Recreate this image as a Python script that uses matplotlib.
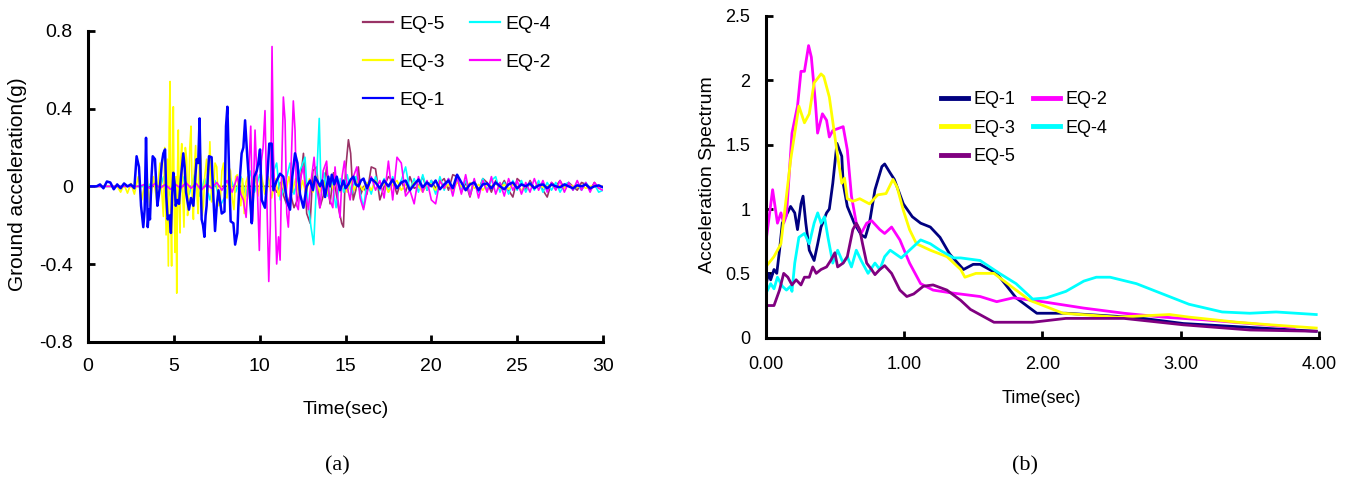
import matplotlib
matplotlib.use("Agg")
import matplotlib.pyplot as plt
import numpy as np

plt.rcParams["font.family"] = ["Liberation Sans", "DejaVu Sans"]

# ---------------- (a) ground motion records: (time s, acceleration g) ----------------
eq1_main = [(0, 0), (0.5, 0), (0.7, 0.01), (0.9, -0.01), (1.1, 0.025), (1.3, 0.02), (1.5, -0.015),
            (1.7, 0.01), (1.9, -0.01), (2.1, 0.015), (2.3, 0), (2.5, 0.01), (2.7, -0.01),
            (2.83, 0.155), (2.97, 0.10), (3.09, -0.10), (3.22, -0.21), (3.30, -0.12), (3.38, 0.25),
            (3.43, 0.05), (3.48, -0.21), (3.55, -0.12), (3.61, -0.17), (3.70, 0.05), (3.77, 0.155),
            (3.90, 0.14), (3.97, 0.02), (4.04, -0.10), (4.12, -0.05), (4.19, 0.0), (4.30, 0.12),
            (4.39, 0.17), (4.49, 0.19), (4.56, -0.05), (4.64, -0.17), (4.75, -0.15), (4.83, -0.24),
            (4.90, -0.05), (4.97, 0.07), (5.04, 0.02), (5.11, -0.10), (5.20, -0.07), (5.30, -0.09),
            (5.42, 0.05), (5.55, 0.17), (5.63, 0.10), (5.71, -0.03), (5.80, -0.08), (5.88, -0.12),
            (6.00, -0.06), (6.14, -0.10), (6.25, 0.05), (6.33, 0.14), (6.42, 0.12), (6.50, 0.35),
            (6.56, 0.05), (6.62, -0.17), (6.70, -0.20), (6.78, -0.26), (6.85, -0.15), (6.91, -0.10),
            (6.98, 0.05), (7.05, 0.155), (7.20, 0.15), (7.30, -0.05), (7.40, -0.23), (7.50, -0.10),
            (7.60, -0.02), (7.70, -0.08), (7.79, -0.14), (7.95, -0.13), (8.04, 0.31), (8.12, 0.41),
            (8.24, 0.01), (8.31, -0.18), (8.47, -0.19), (8.57, -0.30), (8.70, -0.24), (8.76, -0.10),
            (8.82, 0.01), (8.95, 0.17), (9.05, 0.20), (9.15, 0.34), (9.28, 0.15), (9.40, 0.0),
            (9.47, -0.10), (9.54, -0.19), (9.62, -0.05), (9.69, 0.05), (9.83, 0.08), (9.92, 0.12),
            (10.02, 0.19), (10.12, -0.07), (10.31, -0.11), (10.45, 0.05), (10.56, 0.22), (10.70, 0.22),
            (10.80, -0.02), (10.99, 0.03), (11.19, 0.065), (11.38, 0.05), (11.58, -0.07), (11.77, -0.12),
            (11.90, 0.05), (12.06, 0.17), (12.20, 0.12), (12.35, -0.04), (12.55, -0.11), (12.74, 0.0),
            (12.94, 0.03), (13.10, -0.02), (13.23, 0.05), (13.40, 0.02), (13.52, 0.0), (13.65, 0.03),
            (13.81, -0.055), (14.00, 0.05), (14.10, 0.0), (14.20, 0.06), (14.35, 0.01), (14.49, 0.05),
            (14.68, -0.02), (14.88, 0.03), (15.0, -0.01), (15.17, 0.01), (15.3, 0.035), (15.46, 0.05),
            (15.6, 0.01), (15.75, 0.0), (15.9, 0.03), (16.05, 0.04)]
eq1_tail = [-0.01, 0.04, 0.02, -0.01, 0.03, 0.0, 0.035, -0.01, 0.02, 0.03, -0.02, 0.01,
            0.035, -0.005, 0.02, 0.0, 0.03, -0.015, 0.01, 0.03, -0.01, 0.06, 0.02, -0.02,
            0.01, 0.02, -0.02, 0.01, 0.015, -0.01, 0.02, 0.0, -0.015, 0.01, 0.02, -0.01,
            0.01, 0.0, 0.015, -0.01, 0.005, 0.01, -0.01, 0.01, 0.0, -0.005, 0.01, 0.0,
            -0.01, 0.005, 0.0, 0.01, -0.01, 0.0, 0.005, -0.005]

eq2_main = [(0, 0), (3.0, 0), (3.3, 0.01), (3.6, -0.01), (3.9, 0.015), (4.2, -0.01), (4.5, 0.01),
            (4.8, -0.015), (5.1, 0.01), (5.4, -0.01), (5.7, 0.02), (6.0, -0.01), (6.3, 0.015),
            (6.6, -0.02), (6.9, 0.01), (7.2, -0.01), (7.5, 0.02), (7.8, -0.02), (8.1, 0.03),
            (8.4, -0.03), (8.7, 0.05), (8.9, -0.04), (9.05, -0.07), (9.21, -0.16), (9.35, 0.05),
            (9.48, 0.31), (9.59, -0.18), (9.73, 0.29), (9.85, 0.03), (9.98, -0.33), (10.1, 0.13),
            (10.2, 0.2), (10.31, 0.39), (10.4, 0.0), (10.53, -0.49), (10.62, -0.2), (10.72, 0.72),
            (10.8, 0.17), (10.9, -0.1), (10.99, -0.40), (11.1, -0.26), (11.19, -0.38), (11.28, 0.08),
            (11.38, 0.46), (11.48, 0.34), (11.58, -0.14), (11.67, -0.21), (11.8, 0.03), (11.96, 0.44),
            (12.06, 0.29), (12.16, -0.1), (12.25, -0.12), (12.4, 0.05), (12.55, 0.10), (12.7, -0.05),
            (12.84, -0.12), (13.0, 0.03), (13.17, 0.15), (13.3, 0.0), (13.52, -0.11), (13.7, 0.08),
            (13.90, 0.13), (14.05, -0.06), (14.26, -0.11), (14.39, 0.10), (14.55, -0.06), (14.68, -0.16),
            (14.8, 0.05), (14.94, 0.13), (15.1, 0.0), (15.27, -0.07), (15.46, 0.05), (15.66, 0.10),
            (15.85, -0.06), (16.05, -0.12)]
eq2_tail = [-0.03, 0.05, -0.02, 0.03, -0.06, 0.13, -0.07, 0.15, 0.12, -0.05, -0.02, -0.09,
            0.05, -0.03, 0.03, -0.07, -0.09, 0.03, -0.01, 0.04, -0.05, 0.05, -0.04, 0.06,
            -0.05, 0.04, -0.06, 0.03, -0.03, 0.05, -0.04, 0.02, -0.05, 0.04, -0.02, 0.03,
            -0.04, 0.02, -0.03, 0.04, -0.02, 0.03, -0.03, 0.02, -0.02, 0.03, -0.03, 0.02,
            -0.02, 0.03, -0.02, 0.02, -0.03, 0.02, -0.01, -0.02]

eq3_main = [(0, 0), (1.7, 0), (1.9, -0.03), (2.1, 0.01), (2.3, -0.035), (2.5, 0.015), (2.7, -0.04),
            (2.93, 0.05), (3.13, -0.07), (3.42, 0.07), (3.61, -0.10), (3.80, 0.05), (4.0, -0.07),
            (4.19, 0.12), (4.39, -0.155), (4.47, 0.20), (4.55, -0.25), (4.62, 0.14), (4.68, -0.41),
            (4.73, 0.30), (4.78, 0.54), (4.83, -0.20), (4.87, -0.41), (4.92, 0.10), (4.97, 0.41),
            (5.02, -0.10), (5.07, -0.34), (5.12, 0.05), (5.17, -0.55), (5.22, 0.10), (5.26, 0.29),
            (5.31, -0.10), (5.36, -0.24), (5.41, 0.15), (5.46, 0.22), (5.52, -0.05), (5.59, -0.21),
            (5.67, 0.20), (5.75, 0.14), (5.80, -0.15), (5.85, -0.10), (5.93, 0.20), (6.0, 0.31),
            (6.07, -0.05), (6.14, -0.17), (6.2, 0.10), (6.27, 0.21), (6.35, -0.05), (6.42, -0.14),
            (6.5, 0.20), (6.58, 0.14), (6.65, -0.15), (6.72, -0.10), (6.8, 0.05), (6.91, 0.14),
            (7.0, -0.03), (7.1, 0.23), (7.2, -0.08), (7.3, -0.05), (7.4, 0.12), (7.5, 0.10),
            (7.6, -0.10), (7.7, -0.08), (7.8, 0.08), (7.9, 0.12), (8.0, -0.05), (8.1, -0.06),
            (8.2, 0.10), (8.3, 0.08), (8.4, -0.06), (8.5, -0.12), (8.6, 0.05), (8.7, 0.06),
            (8.8, -0.05), (8.9, -0.10), (9.0, 0.04), (9.1, -0.14), (9.2, 0.02), (9.3, 0.05),
            (9.4, -0.05), (9.5, -0.12), (9.6, 0.02), (9.7, 0.08), (9.9, -0.05), (10.1, 0.06),
            (10.3, -0.04), (10.5, 0.05), (10.7, -0.06), (10.9, 0.04), (11.1, -0.05), (11.3, 0.03),
            (11.5, -0.04), (11.7, 0.05), (11.9, -0.03), (12.1, 0.04), (12.3, -0.05), (12.5, 0.03),
            (12.7, -0.04), (12.9, 0.04), (13.1, -0.03), (13.3, 0.05), (13.5, -0.03), (13.7, 0.03),
            (13.9, -0.04), (14.1, 0.03), (14.3, -0.02), (14.5, 0.04), (14.7, -0.03), (14.9, 0.02),
            (15.1, -0.03), (15.3, 0.03), (15.5, -0.02), (15.7, 0.03), (16.0, -0.02)]
eq3_tail = [0.02, -0.02, 0.03, -0.01, 0.02, -0.03, 0.01, 0.03, -0.02, 0.01, -0.02, 0.02,
            0.0, -0.03, 0.02, 0.01, -0.02, 0.03, -0.01, 0.01, -0.02, 0.02, 0.0, -0.01,
            0.02, -0.01, 0.01, -0.02, 0.01, 0.0, 0.015, -0.01, 0.01, -0.015, 0.01, 0.0,
            -0.02, 0.01, 0.005, -0.01, 0.01, -0.005, 0.0, 0.01, -0.01, 0.005, -0.01, 0.01,
            0.0, -0.005, 0.005, -0.01, 0.0, 0.005, -0.005, 0.0]

eq4_main = [(0, 0), (3.5, 0), (3.8, 0.03), (4.1, -0.04), (4.4, 0.05), (4.7, -0.05), (5.0, 0.04),
            (5.3, -0.06), (5.6, 0.05), (5.9, -0.04), (6.2, 0.06), (6.5, -0.05), (6.8, 0.04),
            (7.1, -0.07), (7.4, 0.03), (7.7, -0.10), (8.0, -0.05), (8.3, 0.04), (8.6, -0.03),
            (8.9, 0.05), (9.2, -0.05), (9.44, 0.08), (9.7, -0.03), (10.0, 0.06), (10.3, -0.02),
            (10.6, 0.03), (10.99, 0.12), (11.2, -0.07), (11.5, 0.02), (11.77, 0.12), (12.0, -0.04),
            (12.3, 0.07), (12.64, 0.15), (12.8, -0.07), (12.99, -0.21), (13.15, -0.30), (13.3, 0.0),
            (13.47, 0.35), (13.57, 0.0), (13.75, 0.07), (13.95, -0.05), (14.2, 0.03), (14.45, -0.11),
            (14.7, 0.04), (14.9, -0.03), (15.1, 0.06), (15.35, -0.04), (15.6, 0.05), (15.85, -0.03),
            (16.05, -0.11)]
eq4_tail = [0.02, -0.04, 0.05, -0.02, 0.04, -0.03, 0.05, -0.01, 0.03, 0.10, -0.02, 0.04,
            -0.03, 0.06, -0.02, 0.03, -0.04, 0.05, -0.02, 0.04, -0.03, 0.05, -0.02, 0.03,
            -0.04, 0.03, -0.03, 0.04, -0.02, 0.03, 0.05, -0.03, 0.02, -0.04, 0.03, -0.02,
            0.03, -0.03, 0.02, -0.02, 0.03, -0.03, 0.02, -0.02, 0.02, -0.03, 0.01, 0.02,
            -0.02, 0.01, -0.02, 0.02, -0.01, 0.01, -0.03, -0.02]

eq5_main = [(0, 0), (10.8, 0), (11.0, -0.03), (11.2, 0.02), (11.4, -0.05), (11.6, -0.10), (11.8, -0.04),
            (12.0, -0.11), (12.2, -0.07), (12.4, 0.05), (12.55, 0.17), (12.74, -0.14), (12.94, -0.19),
            (13.1, 0.08), (13.32, 0.10), (13.5, -0.11), (13.7, -0.05), (13.9, 0.10), (14.1, -0.09),
            (14.3, 0.07), (14.45, -0.03), (14.59, -0.11), (14.78, -0.19), (14.88, -0.21), (15.0, 0.08),
            (15.17, 0.24), (15.3, 0.17), (15.45, -0.07), (15.6, -0.02), (15.75, 0.10), (15.9, -0.04),
            (16.05, 0.0)]
eq5_tail = [-0.04, 0.10, 0.09, -0.07, 0.0, 0.05, 0.03, -0.04, 0.03, -0.03, 0.05, -0.01,
            0.0, 0.05, -0.02, 0.03, -0.01, 0.02, 0.04, -0.02, 0.06, 0.05, -0.03, 0.02,
            -0.055, 0.03, -0.02, 0.04, 0.02, -0.03, 0.03, -0.01, 0.03, -0.02, -0.055, 0.04,
            0.02, -0.02, 0.03, -0.01, 0.02, -0.02, -0.055, 0.02, 0.0, 0.03, -0.01, 0.02,
            0.0, -0.02, 0.02, 0.01, -0.02, 0.02, -0.01, 0.0]

# ---------------- (b) acceleration spectra: (period s, Sa) ----------------
sa1 = [(0, 0.40), (0.02, 0.50), (0.036, 0.45), (0.06, 0.53), (0.08, 0.50), (0.10, 0.68), (0.12, 0.89),
       (0.18, 1.02), (0.21, 0.97), (0.23, 0.84), (0.255, 1.04), (0.27, 1.10), (0.29, 0.89), (0.315, 0.68),
       (0.35, 0.60), (0.376, 0.73), (0.40, 0.86), (0.44, 0.97), (0.46, 1.0), (0.485, 1.20), (0.515, 1.51),
       (0.55, 1.41), (0.56, 1.20), (0.59, 1.02), (0.64, 0.89), (0.69, 0.80), (0.72, 0.78), (0.75, 0.89),
       (0.79, 1.15), (0.84, 1.33), (0.86, 1.35), (0.90, 1.28), (0.93, 1.23), (0.995, 1.04), (1.06, 0.94),
       (1.12, 0.89), (1.19, 0.86), (1.26, 0.78), (1.33, 0.65), (1.43, 0.53), (1.50, 0.57), (1.55, 0.57),
       (1.67, 0.50), (1.81, 0.31), (1.96, 0.19), (2.17, 0.19), (2.63, 0.16), (2.73, 0.15), (3.02, 0.11),
       (3.50, 0.08), (3.98, 0.05)]
sa2 = [(0, 0.73), (0.05, 1.15), (0.085, 0.89), (0.11, 0.97), (0.13, 0.89), (0.15, 0.95), (0.19, 1.59),
       (0.23, 1.80), (0.255, 2.07), (0.28, 2.07), (0.31, 2.27), (0.33, 2.18), (0.36, 1.82), (0.375, 1.59),
       (0.41, 1.74), (0.44, 1.69), (0.46, 1.56), (0.485, 1.61), (0.56, 1.64), (0.59, 1.46), (0.62, 1.10),
       (0.655, 0.89), (0.69, 0.81), (0.73, 0.89), (0.765, 0.91), (0.825, 0.84), (0.86, 0.81), (0.91, 0.86),
       (0.97, 0.76), (1.04, 0.58), (1.12, 0.42), (1.21, 0.37), (1.33, 0.35), (1.55, 0.32), (1.67, 0.28),
       (1.79, 0.31), (2.0, 0.28), (2.30, 0.23), (2.59, 0.19), (2.87, 0.16), (3.16, 0.14), (3.50, 0.11),
       (3.82, 0.08)]
sa3 = [(0, 0.55), (0.06, 0.63), (0.11, 0.73), (0.18, 1.38), (0.24, 1.80), (0.28, 1.67), (0.315, 1.74),
       (0.35, 1.98), (0.40, 2.05), (0.42, 2.03), (0.46, 1.87), (0.49, 1.64), (0.52, 1.41), (0.55, 1.20),
       (0.57, 1.24), (0.59, 1.08), (0.63, 1.06), (0.68, 1.08), (0.75, 1.04), (0.81, 1.11), (0.87, 1.12),
       (0.92, 1.23), (0.95, 1.17), (0.995, 0.99), (1.04, 0.84), (1.09, 0.73), (1.19, 0.68), (1.31, 0.63),
       (1.41, 0.53), (1.44, 0.47), (1.52, 0.50), (1.65, 0.50), (1.81, 0.37), (1.91, 0.29), (2.15, 0.19),
       (2.54, 0.16), (2.92, 0.18), (3.06, 0.16), (3.41, 0.12), (3.65, 0.10), (3.98, 0.075)]
sa4 = [(0, 0.34), (0.036, 0.42), (0.06, 0.38), (0.085, 0.47), (0.12, 0.40), (0.15, 0.37), (0.18, 0.40),
       (0.19, 0.36), (0.21, 0.58), (0.24, 0.78), (0.28, 0.81), (0.315, 0.73), (0.35, 0.89), (0.376, 0.97),
       (0.40, 0.89), (0.425, 0.94), (0.45, 0.78), (0.485, 0.58), (0.52, 0.68), (0.56, 0.58), (0.59, 0.63),
       (0.62, 0.55), (0.655, 0.68), (0.69, 0.60), (0.74, 0.50), (0.79, 0.58), (0.825, 0.53), (0.86, 0.63),
       (0.90, 0.68), (0.94, 0.65), (0.98, 0.62), (1.04, 0.68), (1.12, 0.76), (1.19, 0.73), (1.26, 0.68),
       (1.36, 0.62), (1.41, 0.62), (1.55, 0.60), (1.69, 0.50), (1.81, 0.42), (1.93, 0.30), (2.03, 0.31),
       (2.17, 0.36), (2.30, 0.44), (2.39, 0.47), (2.49, 0.47), (2.68, 0.42), (2.87, 0.34), (3.06, 0.26),
       (3.30, 0.20), (3.50, 0.19), (3.69, 0.20), (3.98, 0.18)]
sa5 = [(0, 0.25), (0.06, 0.25), (0.10, 0.37), (0.13, 0.50), (0.16, 0.47), (0.19, 0.41), (0.22, 0.45),
       (0.255, 0.41), (0.28, 0.47), (0.315, 0.47), (0.34, 0.55), (0.365, 0.50), (0.40, 0.53), (0.44, 0.55),
       (0.47, 0.60), (0.50, 0.66), (0.52, 0.55), (0.56, 0.58), (0.59, 0.63), (0.63, 0.84), (0.655, 0.89),
       (0.68, 0.84), (0.70, 0.73), (0.73, 0.58), (0.765, 0.53), (0.79, 0.49), (0.825, 0.53), (0.86, 0.56),
       (0.91, 0.50), (0.97, 0.37), (1.02, 0.32), (1.07, 0.34), (1.14, 0.40), (1.21, 0.41), (1.31, 0.37),
       (1.41, 0.29), (1.48, 0.22), (1.65, 0.12), (1.93, 0.12), (2.17, 0.15), (2.59, 0.15), (3.02, 0.10),
       (3.50, 0.06), (3.98, 0.05)]

colors_a = {"EQ-1": "#0000ff", "EQ-2": "#ff00ff", "EQ-3": "#ffff00", "EQ-4": "#00ffff", "EQ-5": "#993366"}
colors_b = {"EQ-1": "#000080", "EQ-2": "#ff00ff", "EQ-3": "#ffff00", "EQ-4": "#00ffff", "EQ-5": "#800080"}


def record(main, tail, t_start=16.25, dt=0.25):
    m = np.array(main, dtype=float)
    t = np.concatenate([m[:, 0], t_start + dt * np.arange(len(tail))])
    v = np.concatenate([m[:, 1], tail])
    return t, v


records = {
    "EQ-5": record(eq5_main, eq5_tail),
    "EQ-4": record(eq4_main, eq4_tail),
    "EQ-3": record(eq3_main, eq3_tail),
    "EQ-2": record(eq2_main, eq2_tail),
    "EQ-1": record(eq1_main, eq1_tail),
}
spectra = {"EQ-1": sa1, "EQ-2": sa2, "EQ-3": sa3, "EQ-4": sa4, "EQ-5": sa5}

W, H = 1351, 486
fig = plt.figure(figsize=(W / 100, H / 100), dpi=100)


def style_axes(ax, size, xpad, ypad):
    for s in ["top", "right"]:
        ax.spines[s].set_visible(False)
    for s in ["left", "bottom"]:
        ax.spines[s].set_linewidth(2.2)
    ax.tick_params(direction="in", length=5, width=2, labelsize=size, colors="black")
    ax.tick_params(axis="x", pad=xpad)
    ax.tick_params(axis="y", pad=ypad)


# ---- panel (a) ----
axa = fig.add_axes([88 / W, 1 - 341.7 / H, 515 / W, 310.7 / H])
handles_a = {}
for name, (t, v) in records.items():
    lw = 1.8 if name == "EQ-1" else 1.2
    (ln,) = axa.plot(t, v, color=colors_a[name], lw=lw, label=name)
    handles_a[name] = ln
axa.set_xlim(0, 30)
axa.set_ylim(-0.8, 0.8)
axa.set_xticks(range(0, 31, 5))
axa.set_yticks([-0.8, -0.4, 0, 0.4, 0.8])
axa.set_yticklabels(["-0.8", "-0.4", "0", "0.4", "0.8"])
style_axes(axa, 14, 12, 11)
axa.set_xlabel("Time(sec)", fontsize=14, va="center")
axa.xaxis.set_label_coords(0.5, -0.217)
axa.set_ylabel("Ground acceleration(g)", fontsize=15, va="center")
axa.yaxis.set_label_coords(-0.137, 0.508)
order_a = ["EQ-5", "EQ-3", "EQ-1", "EQ-4", "EQ-2"]
leg_a = fig.legend([handles_a[n] for n in order_a], order_a, loc="upper left",
                   bbox_to_anchor=(363 / W, 1 - 15 / H), ncol=2, frameon=False, fontsize=14,
                   handlelength=1.55, handletextpad=0.3, labelspacing=1.05, columnspacing=1.3,
                   borderpad=0, borderaxespad=0)
for ln in leg_a.get_lines():
    ln.set_linewidth(1.6)

# ---- panel (b) ----
axb = fig.add_axes([765.7 / W, 1 - 337.7 / H, 553.3 / W, 321.7 / H])
handles_b = {}
for name, pts in spectra.items():
    p = np.array(pts)
    (ln,) = axb.plot(p[:, 0], p[:, 1], color=colors_b[name], lw=2.0, label=name)
    handles_b[name] = ln
axb.set_xlim(0, 4)
axb.set_ylim(0, 2.5)
axb.set_xticks([0, 1, 2, 3, 4])
axb.set_xticklabels(["0.00", "1.00", "2.00", "3.00", "4.00"])
axb.set_yticks([0, 0.5, 1, 1.5, 2, 2.5])
axb.set_yticklabels(["0", "0.5", "1", "1.5", "2", "2.5"])
style_axes(axb, 13, 13.5, 11)
axb.set_xlabel("Time(sec)", fontsize=13, va="center")
axb.xaxis.set_label_coords(0.499, -0.19)
axb.set_ylabel("Acceleration Spectrum", fontsize=14, va="center")
axb.yaxis.set_label_coords(-0.106, 0.506)
order_b = ["EQ-1", "EQ-3", "EQ-5", "EQ-2", "EQ-4"]
leg_b = fig.legend([handles_b[n] for n in order_b], order_b, loc="upper left",
                   bbox_to_anchor=(941 / W, 1 - 91 / H), ncol=2, frameon=False, fontsize=13,
                   handlelength=1.5, handletextpad=0.28, labelspacing=0.64, columnspacing=1.0,
                   borderpad=0, borderaxespad=0)
for ln in leg_b.get_lines():
    ln.set_linewidth(3.5)

# ---- captions ----
fig.text(337 / W, 1 - 466 / H, "(a)", ha="center", va="center", fontsize=16, family="Liberation Serif")
fig.text(1025 / W, 1 - 466 / H, "(b)", ha="center", va="center", fontsize=16, family="Liberation Serif")

fig.savefig("out.png", dpi=100, facecolor="white")
